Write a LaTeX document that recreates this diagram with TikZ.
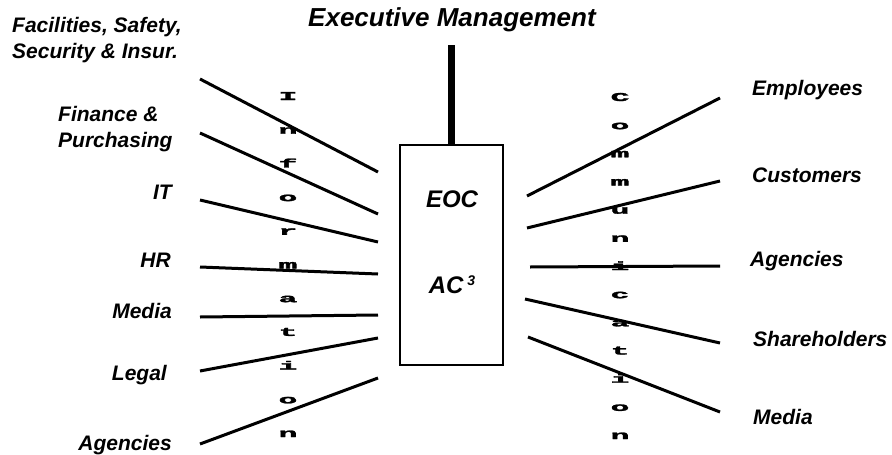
\documentclass[tikz,border=0pt]{standalone}
\usepackage{fontspec}
\setmainfont{Liberation Sans}
\newfontfamily\slabfont[FakeBold=2]{Liberation Mono Bold}
\usetikzlibrary{positioning}

\tikzset{
  lbl/.style={font=\fontsize{21}{26}\selectfont\bfseries\itshape, inner sep=0pt},
  ttl/.style={font=\fontsize{26}{30}\selectfont\bfseries\itshape, inner sep=0pt},
  boxtxt/.style={font=\fontsize{24}{28}\selectfont\bfseries\itshape, inner sep=0pt, anchor=base},
  wire/.style={line width=3pt},
  vletter/.style={font=\fontsize{12}{12}\selectfont\slabfont, inner sep=0pt, anchor=base}
}

\begin{document}
\begin{tikzpicture}[x=1pt,y=-1pt]
  \useasboundingbox (0,0) rectangle (892,455);

  % centre box and the link up to management
  \node[draw, line width=2.7pt, minimum width=103pt, minimum height=220pt, inner sep=0pt] (eoc) at (451.5,255) {};
  \node[ttl, anchor=base] (exec) at (452,26) {Executive Management};
  \coordinate (bartop) at (451.5,45);
  \draw[line width=7.5pt] (bartop) -- (eoc.north);
  \node[boxtxt] (eoctxt) at (452,207) {EOC};
  \node[boxtxt] (actxt) at (452,293) {AC\hspace{4pt}\raisebox{8pt}{\fontsize{14}{14}\selectfont 3}};

  % vertical words
  \foreach \ch [count=\k from 0] in {I,n,f,o,r,m,a,t,i,o,n}
    \node[vletter] (info\k) at (288,{100+33.7*\k}) {\scalebox{2.6}[1]{\ch}};
  \foreach \ch [count=\k from 0] in {C,o,m,m,u,n,i,c,a,t,i,o,n}
    \node[vletter] (comm\k) at (620,{101+28.17*\k}) {\scalebox{2.6}[1]{\ch}};

  % sources on the left
  \node[lbl, anchor=base west, align=left] (fac) at (12,58) {Facilities, Safety,\\Security \& Insur.};
  \node[lbl, anchor=base west, align=left] (fin) at (58,147) {Finance \&\\Purchasing};
  \node[lbl, anchor=base east] (it) at (172,199) {IT};
  \node[lbl, anchor=base east] (hr) at (171,267) {HR};
  \node[lbl, anchor=base east] (mediaL) at (172,318) {Media};
  \node[lbl, anchor=base east] (legal) at (167,380) {Legal};
  \node[lbl, anchor=base east] (agenL) at (172,450) {Agencies};

  % audiences on the right
  \node[lbl, anchor=base west] (empl) at (752,95) {Employees};
  \node[lbl, anchor=base west] (cust) at (752,182) {Customers};
  \node[lbl, anchor=base west] (agenR) at (750,266) {Agencies};
  \node[lbl, anchor=base west] (share) at (753,346) {Shareholders};
  \node[lbl, anchor=base west] (mediaR) at (753,424) {Media};

  % information lines
  \foreach \nm/\ya/\yb in {fac/79/172,fin/133/214,it/200/242,hr/267/274,mediaL/317/315,legal/371/338,agenL/444/378}{
    \coordinate (\nm-out) at (200,\ya);
    \coordinate (\nm-in) at (378,\yb);
    \draw[wire] (\nm-out) -- (\nm-in);
  }
  % communication lines
  \foreach \nm/\xa/\ya/\yb in {empl/527/196/98,cust/527/228/181,agenR/530/267/266,share/525/299/343,mediaR/528/337/412}{
    \coordinate (\nm-in) at (\xa,\ya);
    \coordinate (\nm-out) at (720,\yb);
    \draw[wire] (\nm-in) -- (\nm-out);
  }
\end{tikzpicture}
\end{document}
